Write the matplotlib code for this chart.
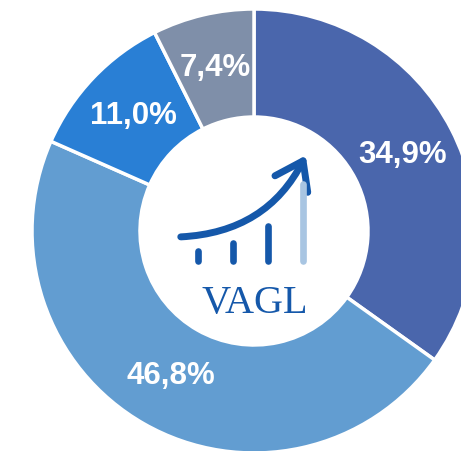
import matplotlib
matplotlib.use("Agg")
import matplotlib.pyplot as plt
from matplotlib.patches import FancyArrowPatch

# slice shares (%), clockwise from 12 o'clock
values = [34.9, 46.8, 11.0, 7.4]
colors = ["#4A66AC", "#629DD1", "#297FD5", "#7F8FA9"]
labels = [f"{v:.1f}%".replace(".", ",") for v in values]
logo_text = "VAGL"

W, H = 461, 451
CX, CY = 254, H - 231   # donut centre in pixel coords (y up)
R_OUT, R_IN = 222, 114
LOGO = "#1558AA"
LOGO_LIGHT = "#A8C5E2"


def draw_logo(ax):
    # rising arrow
    arr = FancyArrowPatch((178, H - 237), (307, H - 153),
                          connectionstyle="arc3,rad=0.3",
                          arrowstyle="->,head_length=0.85,head_width=0.6",
                          mutation_scale=22, lw=5.0, color=LOGO,
                          capstyle="round", joinstyle="round", zorder=5)
    ax.add_patch(arr)
    # little bars under the arrow
    for x, top, c in [(198, 251, LOGO), (233, 243, LOGO), (268, 226, LOGO),
                      (303, 184, LOGO_LIGHT)]:
        ax.plot([x, x], [H - 261, H - top], color=c, lw=4.8,
                solid_capstyle="round", zorder=5)
    ax.text(255, H - 303, logo_text, ha="center", va="center", color=LOGO,
            fontsize=29, family="Liberation Serif", zorder=5)


fig = plt.figure(figsize=(W / 100, H / 100), dpi=100)
ax = fig.add_axes([0, 0, 1, 1])
ax.set_xlim(0, W)
ax.set_ylim(0, H)
ax.set_aspect("equal")
ax.axis("off")

wedges, texts = ax.pie(values, colors=colors, startangle=90, counterclock=False,
                       radius=R_OUT, center=(CX, CY), labels=labels,
                       labeldistance=167 / R_OUT,
                       wedgeprops=dict(width=R_OUT - R_IN, edgecolor="white",
                                       linewidth=2.5),
                       textprops=dict(color="white", fontsize=22.5,
                                      fontweight="bold", family="Liberation Sans",
                                      ha="center", va="center"))
ax.set_xlim(0, W)
ax.set_ylim(0, H)

draw_logo(ax)

fig.savefig("out.png", dpi=100)
